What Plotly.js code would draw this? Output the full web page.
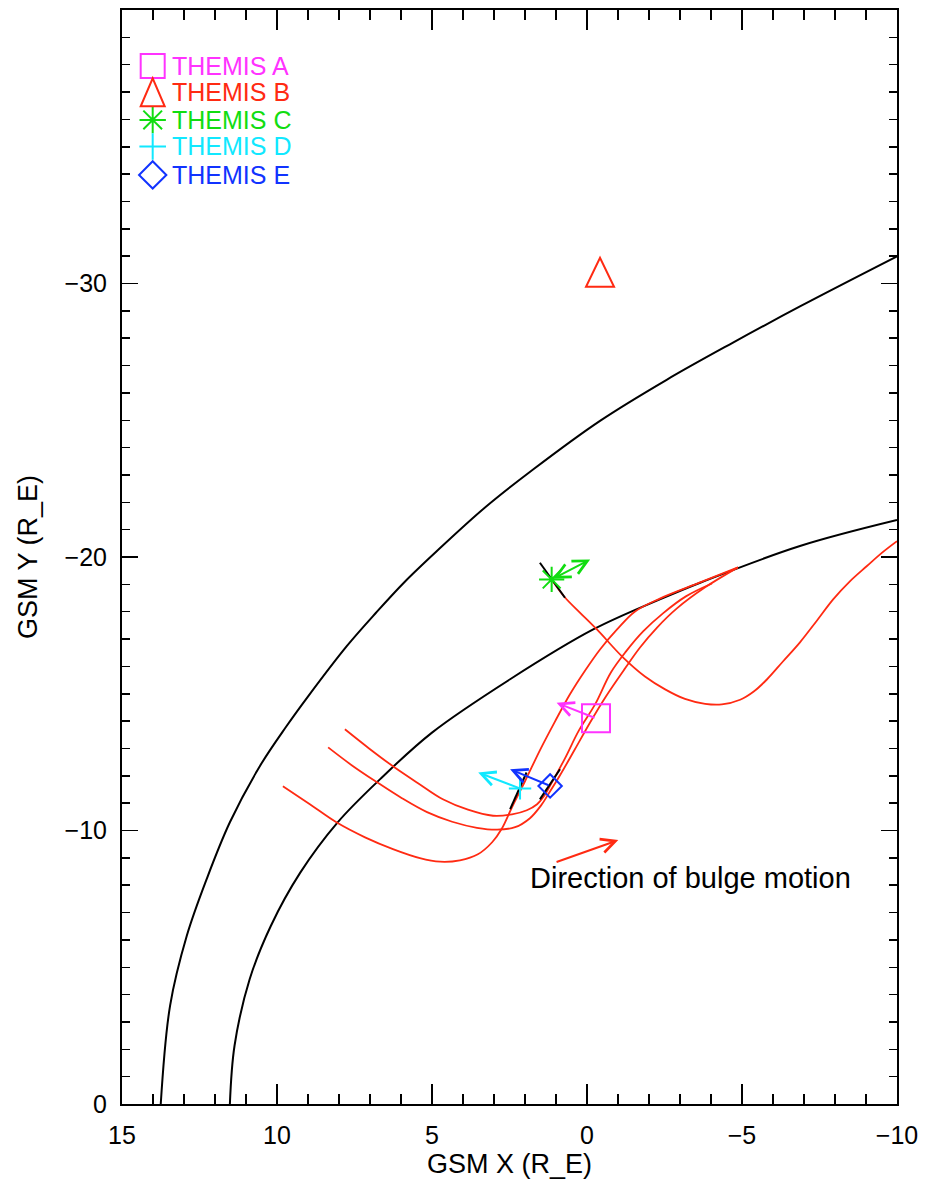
<!DOCTYPE html>
<html>
<head>
<meta charset="utf-8">
<script src="https://cdn.plot.ly/plotly-3.0.1.min.js"></script>
<style>html,body{margin:0;padding:0;background:#fff;}#chart{width:925px;height:1197px;}</style>
</head>
<body>
<div id="chart"></div>
<script>
// ---- Data (GSM coordinates, Earth radii) ----
// Outer model boundary (black)
var outerX = [13.75, 13.45, 12.91, 12.27, 11.52, 10.55, 9.69, 9.02, 7.75, 6.80, 5.90, 4.85, 3.30, 1.74, -0.42, -2.57, -4.71, -6.87, -10.0];
var outerY = [0.0, -3.59, -6.15, -8.22, -10.30, -12.36, -13.82, -14.87, -16.74, -17.97, -19.07, -20.21, -21.80, -23.20, -24.98, -26.48, -27.84, -29.16, -30.99];
// Inner model boundary (black)
var innerX = [11.52, 11.37, 10.88, 10.20, 9.25, 8.05, 6.68, 5.00, 2.48, -0.20, -2.35, -3.65, -6.87, -10.0];
var innerY = [0.0, -2.13, -4.57, -6.51, -8.46, -10.29, -11.87, -13.58, -15.53, -17.35, -18.45, -19.06, -20.40, -21.35];
// Red traced lines
var red1X = [9.81, 8.94, 8.07, 7.16, 6.26, 5.39, 4.74, 4.10, 3.52, 3.06, 2.74, 2.42, 2.00, 1.52, 1.03, 0.55, 0.06, -0.42, -0.97, -1.55, -2.35, -3.65, -4.87];
var red1Y = [-11.62, -10.96, -10.29, -9.75, -9.32, -8.99, -8.86, -8.91, -9.13, -9.57, -10.08, -10.85, -11.80, -12.93, -13.99, -14.98, -15.85, -16.62, -17.35, -18.01, -18.48, -19.07, -19.62];
var red2X = [8.35, 7.58, 6.77, 5.97, 5.16, 4.35, 3.55, 2.90, 2.32, 1.84, 1.48, 1.23, 0.87, 0.39, -0.10, -0.61, -1.23, -1.71, -2.26, -2.90, -3.81, -4.87];
var red2Y = [-13.04, -12.38, -11.76, -11.18, -10.67, -10.32, -10.10, -10.03, -10.12, -10.45, -10.92, -11.36, -12.02, -12.97, -13.95, -14.90, -15.93, -16.69, -17.42, -18.12, -18.89, -19.62];
var red3X = [7.81, 7.03, 6.26, 5.45, 4.65, 3.84, 3.03, 2.42, 1.94, 1.61, 1.39, 1.13, 0.71, 0.26, -0.26, -0.77, -1.26, -1.81, -2.45, -3.19, -4.03];
var red3Y = [-13.70, -13.00, -12.35, -11.73, -11.14, -10.76, -10.54, -10.59, -10.74, -10.96, -11.25, -11.76, -12.64, -13.66, -14.61, -15.78, -16.55, -17.28, -17.94, -18.56, -19.03];
var red4X = [1.14, 0.71, 0.23, -0.32, -1.16, -1.87, -2.52, -3.16, -3.81, -4.35, -4.94, -5.39, -5.81, -6.32, -6.87, -7.42, -7.94, -8.48, -9.03, -9.52, -10.0];
var red4Y = [-19.18, -18.52, -17.97, -17.35, -16.33, -15.63, -15.16, -14.81, -14.63, -14.61, -14.78, -15.09, -15.53, -16.18, -16.88, -17.68, -18.45, -19.11, -19.67, -20.16, -20.58];

// Spacecraft positions
var scNames = ['THEMIS A', 'THEMIS B', 'THEMIS C', 'THEMIS D', 'THEMIS E'];
var scColors = ['#ff33ff', '#ff2a12', '#11dd11', '#11e8ff', '#1133ff'];
var scSymbols = ['square-open', 'triangle', 'asterisk-open', 'cross-thin-open', 'diamond-open'];
var scX = [-0.29, -0.42, 1.14, 2.16, 1.19];
var scY = [-14.10, -30.41, -19.18, -11.54, -11.63];
// Vector arrow tips (null = no arrow)
var vecX = [0.98, null, -0.10, 3.51, 2.48];
var vecY = [-14.67, null, -19.91, -12.12, -12.24];
var vecBoth = [false, false, true, false, false];
// Short black segments through C, D, E
var segX0 = [1.52, 2.48, 1.52];
var segY0 = [-19.79, -10.78, -11.14];
var segX1 = [0.71, 1.95, 0.87];
var segY1 = [-18.51, -12.12, -12.24];

// Legend rows
var legX = 14.01;
var legTextX = 13.45;
var legY = [-37.95, -36.99, -35.98, -35.01, -33.97];

// Bulge direction arrow
var bulgeTail = [1.03, -8.83];
var bulgeHead = [-1.01, -9.65];
var bulgeLabel = 'Direction of bulge motion';
var bulgeLabelPos = [-3.35, -8.26];

var xTicks = [15, 10, 5, 0, -5, -10];
var yTicks = [0, -10, -20, -30, -40];

// ---- helpers ----
var PXX = 31, PXY = 27.375; // pixels per data unit (style constants for open triangle glyph)
function fmt(v) { return v < 0 ? '\u2212' + Math.abs(v) : String(v); }
function triPath(cx, cy, halfW, halfH) {
  var dx = halfW / PXX, dy = halfH / PXY;
  return 'M' + (cx - dx) + ',' + (cy + dy) + ' L' + (cx + dx) + ',' + (cy + dy) + ' L' + cx + ',' + (cy - dy) + ' Z';
}

// ---- Traces ----
var RED = '#ff2a12';
var traces = [];
[[outerX, outerY], [innerX, innerY]].forEach(function (p) {
  traces.push({x: p[0], y: p[1], mode: 'lines', line: {color: '#000', width: 2, shape: 'spline', smoothing: 1}, hoverinfo: 'skip'});
});
[[red1X, red1Y], [red2X, red2Y], [red3X, red3Y], [red4X, red4Y]].forEach(function (p) {
  traces.push({x: p[0], y: p[1], mode: 'lines', line: {color: RED, width: 1.8, shape: 'spline', smoothing: 1}, hoverinfo: 'skip'});
});
for (var k = 0; k < segX0.length; k++) {
  traces.push({x: [segX0[k], segX1[k]], y: [segY0[k], segY1[k]], mode: 'lines', line: {color: '#000', width: 2}, hoverinfo: 'skip'});
}
var plotSizes = [28, 0, 21, 16, 18];
var legSizes = [24, 0, 22, 19, 21];
var shapes = [];
for (var i = 0; i < scNames.length; i++) {
  if (scSymbols[i] === 'triangle') {
    shapes.push({type: 'path', xref: 'x', yref: 'y', path: triPath(scX[i], scY[i], 14, 14.5), line: {color: scColors[i], width: 2}});
    shapes.push({type: 'path', xref: 'x', yref: 'y', path: triPath(legX, legY[i], 12, 14), line: {color: scColors[i], width: 2}});
    continue;
  }
  traces.push({x: [scX[i]], y: [scY[i]], mode: 'markers', name: scNames[i],
    marker: {symbol: scSymbols[i], size: plotSizes[i], color: scColors[i], line: {color: scColors[i], width: 2}}});
  traces.push({x: [legX], y: [legY[i]], mode: 'markers', hoverinfo: 'skip',
    marker: {symbol: scSymbols[i], size: legSizes[i], color: scColors[i], line: {color: scColors[i], width: 2}}});
}

// ---- Annotations ----
var FONT = 'Liberation Sans, Arial, sans-serif';
var ann = [];
for (var a = 0; a < scNames.length; a++) {
  if (vecX[a] === null) continue;
  ann.push({x: vecX[a], y: vecY[a], ax: scX[a], ay: scY[a], xref: 'x', yref: 'y', axref: 'x', ayref: 'y',
    text: '', showarrow: true, arrowhead: 5, arrowsize: 1.4, arrowwidth: 2, arrowcolor: scColors[a],
    arrowside: vecBoth[a] ? 'end+start' : 'end', startarrowhead: 5, startarrowsize: 1.4, standoff: 0, startstandoff: 0});
}
ann.push({x: bulgeHead[0], y: bulgeHead[1], ax: bulgeTail[0], ay: bulgeTail[1], xref: 'x', yref: 'y', axref: 'x', ayref: 'y',
  text: '', showarrow: true, arrowhead: 5, arrowsize: 1.4, arrowwidth: 2, arrowcolor: RED, standoff: 0});
ann.push({x: bulgeLabelPos[0], y: bulgeLabelPos[1], xref: 'x', yref: 'y', text: bulgeLabel, showarrow: false,
  font: {family: FONT, size: 29, color: '#000'}, xanchor: 'center', yanchor: 'middle'});
for (var t = 0; t < scNames.length; t++) {
  ann.push({x: legTextX, y: legY[t], xref: 'x', yref: 'y', text: scNames[t], showarrow: false,
    font: {family: FONT, size: 25, color: scColors[t]}, xanchor: 'left', yanchor: 'middle'});
}

var layout = {
  width: 925, height: 1197,
  margin: {l: 122, r: 28, t: 10, b: 93},
  paper_bgcolor: '#fff', plot_bgcolor: '#fff',
  showlegend: false,
  font: {family: FONT, color: '#000', size: 22},
  xaxis: {
    range: [15, -10], tickvals: xTicks, ticktext: xTicks.map(fmt),
    ticks: 'inside', ticklen: 20, tickwidth: 1.5, tickcolor: '#000',
    minor: {dtick: 1, ticks: 'inside', ticklen: 10, tickwidth: 1.5, tickcolor: '#000'},
    showline: true, linecolor: '#000', linewidth: 2, mirror: 'allticks',
    showgrid: false, zeroline: false, ticklabelstandoff: 8,
    tickfont: {family: FONT, size: 25},
    title: {text: 'GSM X (R_E)', font: {family: FONT, size: 27}, standoff: 3}
  },
  yaxis: {
    range: [0, -40], tickvals: yTicks, ticktext: yTicks.map(fmt),
    ticks: 'inside', ticklen: 16, tickwidth: 1.5, tickcolor: '#000',
    minor: {dtick: 1, ticks: 'inside', ticklen: 8, tickwidth: 1.5, tickcolor: '#000'},
    showline: true, linecolor: '#000', linewidth: 2, mirror: 'allticks',
    showgrid: false, zeroline: false, ticklabelstandoff: 8,
    tickfont: {family: FONT, size: 25},
    title: {text: 'GSM Y (R_E)', font: {family: FONT, size: 27}, standoff: 19}
  },
  shapes: shapes,
  annotations: ann
};

Plotly.newPlot('chart', traces, layout, {staticPlot: true});
</script>
</body>
</html>
